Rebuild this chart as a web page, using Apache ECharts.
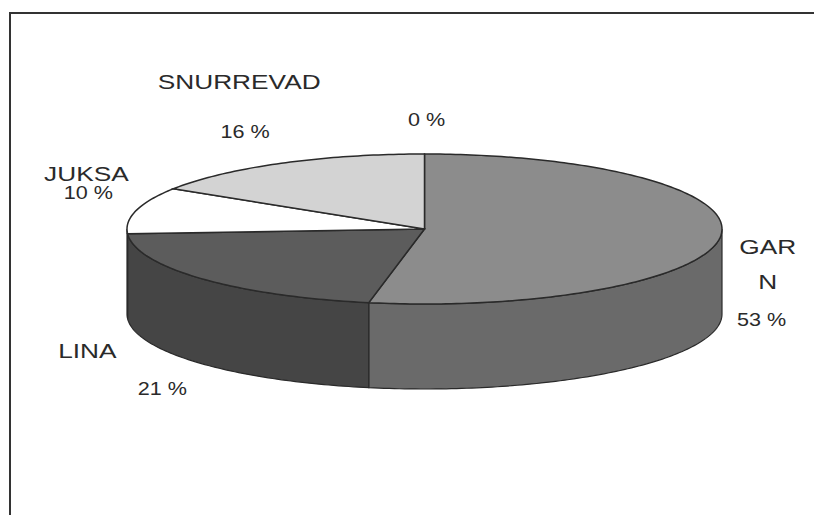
<!DOCTYPE html>
<html>
<head>
<meta charset="utf-8">
<script src="https://cdn.jsdelivr.net/npm/echarts@6/dist/echarts.min.js"></script>
<style>
  html, body { margin: 0; padding: 0; background: #fff; }
  #chart { width: 814px; height: 515px; }
</style>
</head>
<body>
<div id="chart"></div>
<script>
  // catch share per gear type (percent)
  const categories = ['', 'GARN', 'LINA', 'JUKSA', 'SNURREVAD'];
  const shares = [0, 53, 21, 10, 16];

  const topColors = ['#b0b0b0', '#8c8c8c', '#5c5c5c', '#ffffff', '#d3d3d3'];
  const sideColors = ['#909090', '#6a6a6a', '#454545', '#e0e0e0', '#b0b0b0'];

  // label placement, offset from the slice's mid point on the rim
  const nameOffset = [null, [47, 28], [-114, 72], [-50, -37], [-42, -82]];
  const pctOffset = [[2, -34], [41, 84], [-39, 110], [-48, -18], [-36, -32]];
  const nameWrap = [0, 50, 0, 0, 0];

  const CX = 424.5, CY = 229, RX = 297.5, RY = 75, DEPTH = 85;

  const total = shares.reduce((a, b) => a + b, 0);
  const starts = [];
  let acc = 0;
  shares.forEach(v => { starts.push(acc / total * 360); acc += v; });

  // angle in degrees, clockwise from 12 o'clock
  function rim(deg, drop) {
    const r = deg * Math.PI / 180;
    return [CX + RX * Math.sin(r), CY - RY * Math.cos(r) + (drop || 0)];
  }
  function arc(a, b, drop) {
    const pts = [];
    const n = Math.max(2, Math.ceil(Math.abs(b - a)));
    for (let i = 0; i <= n; i++) pts.push(rim(a + (b - a) * i / n, drop));
    return pts;
  }

  function renderItem(params, api) {
    const i = params.dataIndex;
    const v = api.value(0);
    const a = starts[i];
    const b = a + v / total * 360;
    const mid = (a + b) / 2;
    const anchor = rim(mid, 0);
    const children = [];

    if (v > 0) {
      // front wall, only the part facing us
      const s = Math.max(a, 90), e = Math.min(b, 270);
      if (e > s) {
        children.push({
          type: 'polygon', z2: 1,
          shape: { points: arc(s, e, 0).concat(arc(e, s, DEPTH)) },
          style: { fill: sideColors[i], stroke: '#2a2a2a', lineWidth: 1.2 }
        });
      }
      children.push({
        type: 'polygon', z2: 5,
        shape: { points: [[CX, CY]].concat(arc(a, b, 0)) },
        style: { fill: topColors[i], stroke: '#2a2a2a', lineWidth: 1.5 }
      });
    }

    if (nameOffset[i] && categories[i]) {
      const st = {
        text: categories[i], fill: '#2a2a2a',
        font: '21px "Liberation Sans", Arial, sans-serif',
        align: 'center', verticalAlign: 'middle', lineHeight: 35
      };
      if (nameWrap[i]) { st.width = nameWrap[i]; st.overflow = 'break'; }
      children.push({
        type: 'text', z2: 10, scaleX: 1.25,
        x: anchor[0] + nameOffset[i][0], y: anchor[1] + nameOffset[i][1],
        style: st
      });
    }
    children.push({
      type: 'text', z2: 10, scaleX: 1.2,
      x: anchor[0] + pctOffset[i][0], y: anchor[1] + pctOffset[i][1],
      style: {
        text: Math.round(v / total * 100) + ' %', fill: '#2a2a2a',
        font: '18px "Liberation Sans", Arial, sans-serif',
        align: 'center', verticalAlign: 'middle'
      }
    });

    return { type: 'group', children: children };
  }

  const chart = echarts.init(document.getElementById('chart'), null, { renderer: 'svg' });
  chart.setOption({
    backgroundColor: '#fff',
    animation: false,
    graphic: [{
      type: 'rect',
      shape: { x: 10, y: 13, width: 830, height: 530 },
      style: { fill: 'none', stroke: '#333', lineWidth: 2 }
    }],
    series: [{
      type: 'custom',
      coordinateSystem: 'none',
      renderItem: renderItem,
      data: shares.map((v, i) => ({ name: categories[i], value: v }))
    }]
  });
</script>
</body>
</html>
